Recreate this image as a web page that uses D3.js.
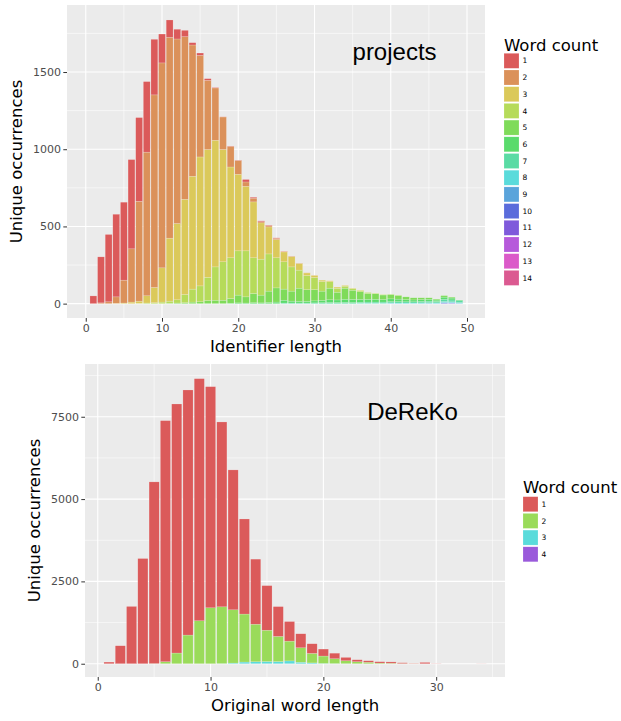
<!DOCTYPE html>
<html>
<head>
<meta charset="utf-8">
<script src="https://cdn.jsdelivr.net/npm/d3@7"></script>
<style>
body { margin: 0; background: #fff; }
text { font-family: "DejaVu Sans", sans-serif; }
</style>
</head>
<body>
<div id="canvas"></div>
<script>
// ---- top chart: projects, identifier length 1..49, one array per word count
var idLengths = [1,2,3,4,5,6,7,8,9,10,11,12,13,14,15,16,17,18,19,20,21,22,23,24,25,26,27,28,29,30,31,32,33,34,35,36,37,38,39,40,41,42,43,44,45,46,47,48,49];
var wc1  = [50,298,436,535,505,578,542,457,360,187,112,63,41,15,15,11,3,1,2,2,16,6,5,3,3,1,0,0,0,0,0,0,0,0,0,0,0,0,0,0,0,0,0,0,0,0,0,0,0];
var wc2  = [0,5,12,42,148,345,647,930,1247,1327,1301,1195,1053,850,658,448,339,211,134,89,28,24,8,8,8,4,3,2,1,1,0,0,0,0,0,0,0,0,0,0,0,0,0,0,0,0,0,0,0];
var wc3  = [0,0,0,2,4,10,14,47,99,222,408,494,617,731,835,828,820,727,588,496,418,362,235,175,118,64,66,43,17,14,9,6,8,5,3,2,0,0,0,0,0,0,0,0,0,0,0,0,0];
var wc4  = [0,0,0,0,0,0,2,4,6,10,13,21,53,84,103,150,216,249,264,287,298,231,233,241,195,177,157,117,92,79,62,42,25,13,10,8,6,4,3,2,2,0,0,0,0,0,0,0,0];
var wc5  = [0,0,0,0,0,0,0,0,0,0,3,4,6,10,12,20,22,22,30,50,40,60,50,73,92,72,65,85,75,72,60,75,50,72,60,50,38,36,30,28,24,18,14,12,10,6,10,6,0];
var wc6  = [0,0,0,0,0,0,0,0,0,0,0,0,0,0,0,0,0,0,3,5,4,6,5,8,10,18,12,11,11,13,15,18,17,20,20,18,18,18,16,18,16,14,12,12,12,9,14,12,4];
var wc7  = [0,0,0,0,0,0,0,0,0,0,0,0,0,0,0,0,0,0,0,0,0,0,0,0,0,4,4,4,4,5,6,7,7,8,7,7,8,8,8,8,9,8,8,9,10,9,14,12,12];
var wc8  = [0,0,0,0,0,0,0,0,0,0,0,0,0,0,0,0,0,0,0,0,0,0,0,0,0,0,0,0,0,0,0,0,0,0,0,2,2,2,2,3,4,4,3,4,4,4,6,5,5];
var wc9  = [0,0,0,0,0,0,0,0,0,0,0,0,0,0,0,0,0,0,0,0,0,0,0,0,0,0,0,0,0,0,0,0,0,0,0,0,0,0,0,2,0,0,1,1,2,1,4,3,2];
var wc10 = [0,0,0,0,0,0,0,0,0,0,0,0,0,0,0,0,0,0,0,0,0,0,0,0,0,0,0,0,0,0,0,0,0,0,0,0,0,0,0,0,0,0,0,0,0,0,3,2,0];
var wc11 = [0,0,0,0,0,0,0,0,0,0,0,0,0,0,0,0,0,0,0,0,0,0,0,0,0,0,0,0,0,0,0,0,0,0,0,0,0,0,0,0,0,0,0,0,0,0,1,1,0];
var wc12 = [0,0,0,0,0,0,0,0,0,0,0,0,0,0,0,0,0,0,0,0,0,0,0,0,0,0,0,0,0,0,0,0,0,0,0,0,0,0,0,0,0,0,0,0,0,0,0,1,0];
var wc13 = [0,0,0,0,0,0,0,0,0,0,0,0,0,0,0,0,0,0,0,0,0,0,0,0,0,0,0,0,0,0,0,0,0,0,0,0,0,0,0,0,0,0,0,0,0,0,0,0,0];
var wc14 = [0,0,0,0,0,0,0,0,0,0,0,0,0,0,0,0,0,0,0,0,0,0,0,0,0,0,0,0,0,0,0,0,0,0,0,0,0,0,0,0,0,0,0,0,0,0,0,0,0];
var projKeys = ['1','2','3','4','5','6','7','8','9','10','11','12','13','14'];
var projColors = ['#DB5A5A','#DB915A','#DBC95A','#B6DB5A','#7FDB5A','#5ADB6C','#5ADBA4',
                  '#5ADBDB','#5AA4DB','#5A6CDB','#7F5ADB','#B65ADB','#DB5AC9','#DB5A91'];
var projYTicks = [0,500,1000,1500];
var projXTicks = [0,10,20,30,40,50];

// ---- bottom chart: DeReKo, original word length 1..34
var wordLengths = [1,2,3,4,5,6,7,8,9,10,11,12,13,14,15,16,17,18,19,20,21,22,23,24,25,26,27,28,29,30,31,32,33,34];
var dk1 = [50,546,1740,3195,5517,7321,7564,7443,7352,6715,5613,4248,2888,1976,1355,906,595,425,293,212,168,101,60,46,41,40,25,8,40,5,0,0,0,3];
var dk2 = [0,0,0,0,5,61,324,870,1305,1699,1724,1618,1457,1140,950,764,600,440,289,223,147,89,61,45,20,15,5,2,0,0,0,0,0,0];
var dk3 = [0,0,0,0,0,0,0,0,0,0,5,20,50,60,65,65,85,45,25,10,5,2,0,0,0,0,0,0,0,0,0,0,0,0];
var dk4 = [0,0,0,0,0,0,0,0,0,0,0,0,1,0,2,0,1,0,0,0,0,0,0,0,0,0,0,0,0,0,0,0,0,0];
var dekoKeys = ['1','2','3','4'];
var dekoColors = ['#DB5A5A','#9ADB5A','#5ADBDB','#9A5ADB'];
var dekoYTicks = [0,2500,5000,7500];
var dekoXTicks = [0,10,20,30];

var W = 621, H = 721;
var svg = d3.select('#canvas').append('svg')
    .attr('width', W)
    .attr('height', H);

drawPanel({
  l:67, r:485, t:5, b:318,
  xDomain:[-2.46,52.36], yDomain:[-93,1934],
  cats:idLengths, series:[wc1,wc2,wc3,wc4,wc5,wc6,wc7,wc8,wc9,wc10,wc11,wc12,wc13,wc14],
  keys:projKeys, colors:projColors,
  xTicks:projXTicks, yTicks:projYTicks,
  xTitle:'Identifier length', yTitleX:22,
  label:'projects', labelAt:[40.5,1632],
  legendX:504, legendTitleY:50.7, legendKeyY:53.3
});

drawPanel({
  l:85, r:505, t:364, b:677,
  xDomain:[-1.13,36.1], yDomain:[-403,9102],
  cats:wordLengths, series:[dk1,dk2,dk3,dk4],
  keys:dekoKeys, colors:dekoColors,
  xTicks:dekoXTicks, yTicks:dekoYTicks,
  xTitle:'Original word length', yTitleX:40,
  label:'DeReKo', labelAt:[27.9,7650],
  legendX:523, legendTitleY:493, legendKeyY:496.7
});

function drawPanel(o) {
  var g = svg.append('g');
  var x = d3.scaleLinear().domain(o.xDomain).range([o.l, o.r]);
  var y = d3.scaleLinear().domain(o.yDomain).range([o.b, o.t]);

  // panel background
  g.append('rect')
    .attr('x', o.l).attr('y', o.t)
    .attr('width', o.r - o.l).attr('height', o.b - o.t)
    .attr('fill', '#EBEBEB');

  // minor grid = halfway between majors
  var xStep = o.xTicks[1] - o.xTicks[0], yStep = o.yTicks[1] - o.yTicks[0];
  var xMinor = [o.xTicks[0] - xStep/2].concat(o.xTicks.map(function(v){ return v + xStep/2; }))
    .filter(function(v){ return v > o.xDomain[0] && v < o.xDomain[1]; });
  var yMinor = [o.yTicks[0] - yStep/2].concat(o.yTicks.map(function(v){ return v + yStep/2; }))
    .filter(function(v){ return v > o.yDomain[0] && v < o.yDomain[1]; });

  g.selectAll('.xminor').data(xMinor).enter().append('line')
    .attr('x1', x).attr('x2', x).attr('y1', o.t).attr('y2', o.b)
    .attr('stroke', '#fff').attr('stroke-width', 0.55);
  g.selectAll('.yminor').data(yMinor).enter().append('line')
    .attr('y1', y).attr('y2', y).attr('x1', o.l).attr('x2', o.r)
    .attr('stroke', '#fff').attr('stroke-width', 0.55);
  g.selectAll('.xmajor').data(o.xTicks).enter().append('line')
    .attr('x1', x).attr('x2', x).attr('y1', o.t).attr('y2', o.b)
    .attr('stroke', '#fff').attr('stroke-width', 1.1);
  g.selectAll('.ymajor').data(o.yTicks).enter().append('line')
    .attr('y1', y).attr('y2', y).attr('x1', o.l).attr('x2', o.r)
    .attr('stroke', '#fff').attr('stroke-width', 1.1);

  // stacked bars, word count 1 on top (ggplot stack order)
  var rows = o.cats.map(function(c, i) {
    var row = {len: c};
    o.keys.forEach(function(k, j) { row[k] = o.series[j][i]; });
    return row;
  });
  var layers = d3.stack().keys(o.keys.slice().reverse())(rows);

  g.selectAll('.layer').data(layers).enter().append('g')
    .attr('fill', function(d) { return o.colors[o.keys.indexOf(d.key)]; })
    .selectAll('rect')
    .data(function(d) { return d.filter(function(v) { return v[1] > v[0]; }); })
    .enter().append('rect')
    .attr('x', function(d) { return x(d.data.len - 0.45); })
    .attr('width', function(d) { return x(d.data.len + 0.45) - x(d.data.len - 0.45); })
    .attr('y', function(d) { return y(d[1]); })
    .attr('height', function(d) { return y(d[0]) - y(d[1]); })
    .attr('stroke', '#fff').attr('stroke-opacity', 0.35).attr('stroke-width', 0.5);

  // annotation
  g.append('text')
    .attr('x', x(o.labelAt[0])).attr('y', y(o.labelAt[1]))
    .attr('dy', '0.35em').attr('text-anchor', 'middle')
    .style('font-family', '"Liberation Sans", Arial, sans-serif')
    .style('font-size', '24px').attr('fill', '#000')
    .text(o.label);

  // axes
  var xAxis = d3.axisBottom(x).tickValues(o.xTicks).tickFormat(d3.format('d')).tickSize(3.7).tickPadding(2.2);
  var yAxis = d3.axisLeft(y).tickValues(o.yTicks).tickFormat(d3.format('d')).tickSize(3.7).tickPadding(2.2);
  var ax = g.append('g').attr('transform', 'translate(0,' + o.b + ')').call(xAxis);
  var ay = g.append('g').attr('transform', 'translate(' + o.l + ',0)').call(yAxis);
  [ax, ay].forEach(function(a) {
    a.select('.domain').remove();
    a.selectAll('line').attr('stroke', '#333');
    a.selectAll('text').attr('fill', '#4D4D4D')
      .style('font-family', '"DejaVu Sans", sans-serif').style('font-size', '11px');
  });

  // axis titles
  g.append('text')
    .attr('x', (o.l + o.r) / 2).attr('y', o.b + 34)
    .attr('text-anchor', 'middle').style('font-size', '16.5px').attr('fill', '#000')
    .text(o.xTitle);
  g.append('text')
    .attr('transform', 'translate(' + o.yTitleX + ',' + (o.t + o.b) / 2 + ') rotate(-90)')
    .attr('text-anchor', 'middle').style('font-size', '16.5px').attr('fill', '#000')
    .text('Unique occurrences');

  // legend
  var lg = g.append('g');
  lg.append('text')
    .attr('x', o.legendX).attr('y', o.legendTitleY)
    .style('font-size', '16.5px').attr('fill', '#000')
    .text('Word count');
  var item = lg.selectAll('.key').data(o.keys).enter().append('g')
    .attr('transform', function(d, i) { return 'translate(' + o.legendX + ',' + (o.legendKeyY + i * 16.7) + ')'; });
  item.append('rect')
    .attr('width', 15).attr('height', 15)
    .attr('fill', function(d, i) { return o.colors[i]; })
    .attr('stroke', '#fff').attr('stroke-opacity', 0.35).attr('stroke-width', 0.5);
  item.append('text')
    .attr('x', 18.5).attr('y', 7.5).attr('dy', '0.35em')
    .style('font-size', '7.5px').attr('fill', '#000')
    .text(function(d) { return d; });
}
</script>
</body>
</html>
